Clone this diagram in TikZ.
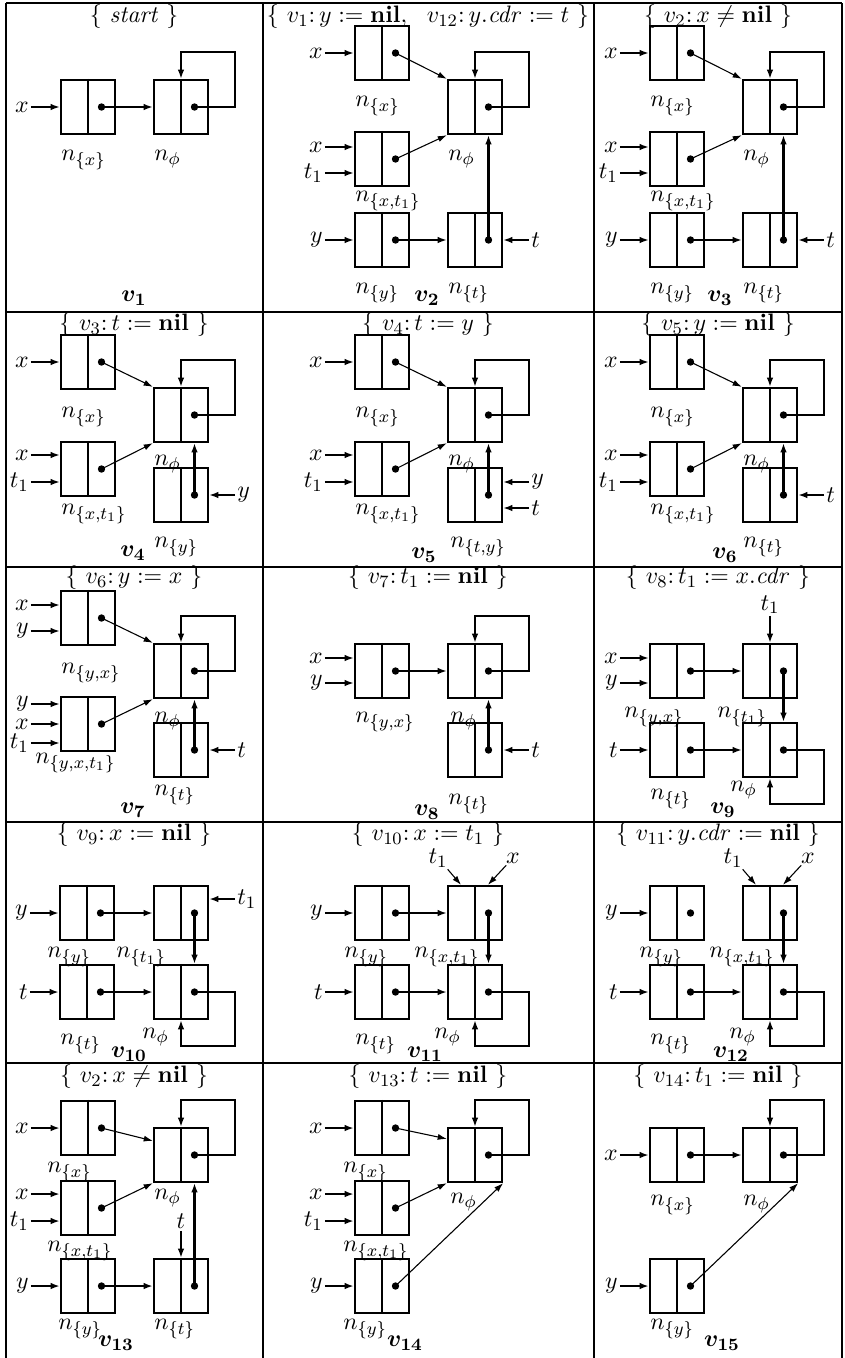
\documentclass[tikz,border=0pt,11pt]{standalone}
\usepackage{bm}
\usetikzlibrary{arrows.meta,calc}
\tikzset{cons/.style={draw,line width=1.1pt,minimum width=24.8pt,minimum height=24.8pt,inner sep=0pt},
  ptr/.style={line width=0.9pt,-{Latex[length=4.2pt,width=3pt]}},
  vptr/.style={ptr,line width=1.2pt},
  fine/.style={line width=0.5pt,-{Latex[length=4.2pt,width=2.8pt]}},
  var/.style={inner sep=0.8pt},
  lbl/.style={anchor=base west,inner sep=0.5pt},
  head/.style={inner sep=0pt},
  rule/.style={line width=1.2pt}}
% one cons cell: [label offset]{name}{centre}{subscript}
\newcommand{\cons}[4][0,25]{%
  \node[cons] (#2) at (#3) {};
  \draw[line width=1.1pt] (#2.north) -- (#2.south);
  \coordinate (#2-p) at ($(#2.center)+(13.5,0)$);
  \fill (#2-p) circle (1.7pt);
  \node[lbl] (#2-l) at ($(#2.south west)+(#1)$) {$n_{#4}$};}
% variable pointing in from the left / right / top
\newcommand{\pin}[4]{%
  \coordinate (#1-e) at ($(#3.west)+(0,#4)$);
  \node[var,anchor=east] (#1) at ($(#1-e)+(-29,0)$) {$#2$};
  \draw[ptr] (#1) -- (#1-e);}
\newcommand{\rpin}[4]{%
  \coordinate (#1-e) at ($(#3.east)+(0,#4)$);
  \node[var,anchor=west] (#1) at ($(#1-e)+(26,0)$) {$#2$};
  \draw[ptr] (#1) -- (#1-e);}
\newcommand{\tpin}[3]{%
  \node[var,anchor=south] (#1) at ($(#3)+(0,-27)$) {$#2$};
  \draw[vptr] (#1) -- (#3);}
\newcommand{\loopup}[1]{\draw[ptr] (#1-p) -| ($(#1.north east)+(26,-27)$) -| (#1.north);}
\newcommand{\loopdown}[1]{\draw[ptr] (#1-p) -| ($(#1.south east)+(26,26)$) -| (#1.south);}

\begin{document}
\begin{tikzpicture}[x=0.46pt,y=-0.46pt]
  \useasboundingbox (0,0) rectangle (844,1358);
  % table
  \foreach \y in {3,312,567,822,1063} \draw[rule] (6,\y) -- (842,\y);
  \foreach \x in {6,263,594,842} \draw[rule] (\x,3) -- (\x,1358);

  % v1
  \node[head] (h1) at (134,17) {$\{$ \textit{start} $\}$};
  \cons{v1x}{88,107}{\{x\}}
  \cons{v1f}{181,107}{\phi}
  \pin{v1a}{x}{v1x}{0}
  \draw[ptr] (v1x-p) -- (v1f);
  \loopup{v1f}
  \node[head] (v1) at (134,298) {$\bm{v_1}$};

  % v2
  \node[head] (h2) at (428,17) {$\{\ v_1\colon y:=\textbf{nil},\ \ v_{12}\colon y.\mathit{cdr}:=t\ \}$};
  \cons{v2x}{382,53}{\{x\}}
  \cons[0,14]{v2xt}{382,159}{\{x,t_1\}}
  \cons{v2y}{382,240}{\{y\}}
  \cons{v2f}{475,107}{\phi}
  \cons{v2t}{475,240}{\{t\}}
  \pin{v2a}{x}{v2x}{0}
  \pin{v2b}{x}{v2xt}{-12}
  \pin{v2c}{t_1}{v2xt}{14}
  \pin{v2d}{y}{v2y}{0}
  \rpin{v2e}{t}{v2t}{0}
  \draw[fine] (v2x-p) -- (v2f.north west);
  \draw[fine] (v2xt-p) -- (v2f.south west);
  \draw[ptr] (v2y-p) -- (v2t);
  \draw[vptr] (v2t-p) -- (v2t-p |- v2f.south);
  \loopup{v2f}
  \node[head] (v2) at (427,298) {$\bm{v_2}$};

  % v3
  \node[head] (h3) at (718,17) {$\{\ v_2\colon x\neq\textbf{nil}\ \}$};
  \cons{v3x}{677,53}{\{x\}}
  \cons[0,14]{v3xt}{677,159}{\{x,t_1\}}
  \cons{v3y}{677,240}{\{y\}}
  \cons{v3f}{770,107}{\phi}
  \cons{v3t}{770,240}{\{t\}}
  \pin{v3a}{x}{v3x}{0}
  \pin{v3b}{x}{v3xt}{-12}
  \pin{v3c}{t_1}{v3xt}{14}
  \pin{v3d}{y}{v3y}{0}
  \rpin{v3e}{t}{v3t}{0}
  \draw[fine] (v3x-p) -- (v3f.north west);
  \draw[fine] (v3xt-p) -- (v3f.south west);
  \draw[ptr] (v3y-p) -- (v3t);
  \draw[vptr] (v3t-p) -- (v3t-p |- v3f.south);
  \loopup{v3f}
  \node[head] (v3) at (720,298) {$\bm{v_3}$};

  % v4
  \node[head] (h4) at (134,325) {$\{\ v_3\colon t:=\textbf{nil}\ \}$};
  \cons[0,27]{v4x}{88,362}{\{x\}}
  \cons[0,17]{v4xt}{88,469}{\{x,t_1\}}
  \cons[0,22]{v4f}{181,415}{\phi}
  \cons[0,24]{v4y}{181,495}{\{y\}}
  \pin{v4a}{x}{v4x}{0}
  \pin{v4b}{x}{v4xt}{-14}
  \pin{v4c}{t_1}{v4xt}{13}
  \rpin{v4e}{y}{v4y}{0}
  \draw[fine] (v4x-p) -- (v4f.north west);
  \draw[fine] (v4xt-p) -- (v4f.south west);
  \draw[vptr] (v4y-p) -- (v4y-p |- v4f.south);
  \loopup{v4f}
  \node[head] (v4) at (133,553) {$\bm{v_4}$};

  % v5
  \node[head] (h5) at (428,325) {$\{\ v_4\colon t:=y\ \}$};
  \cons[0,27]{v5x}{382,362}{\{x\}}
  \cons[0,17]{v5xt}{382,469}{\{x,t_1\}}
  \cons[0,22]{v5f}{475,415}{\phi}
  \cons[2,24]{v5ty}{475,495}{\{t,y\}}
  \pin{v5a}{x}{v5x}{0}
  \pin{v5b}{x}{v5xt}{-14}
  \pin{v5c}{t_1}{v5xt}{13}
  \rpin{v5d}{y}{v5ty}{-13}
  \rpin{v5e}{t}{v5ty}{13}
  \draw[fine] (v5x-p) -- (v5f.north west);
  \draw[fine] (v5xt-p) -- (v5f.south west);
  \draw[vptr] (v5ty-p) -- (v5ty-p |- v5f.south);
  \loopup{v5f}
  \node[head] (v5) at (424,555) {$\bm{v_5}$};

  % v6
  \node[head] (h6) at (718,325) {$\{\ v_5\colon y:=\textbf{nil}\ \}$};
  \cons[0,27]{v6x}{677,362}{\{x\}}
  \cons[0,17]{v6xt}{677,469}{\{x,t_1\}}
  \cons[0,22]{v6f}{770,415}{\phi}
  \cons[0,24]{v6t}{770,495}{\{t\}}
  \pin{v6a}{x}{v6x}{0}
  \pin{v6b}{x}{v6xt}{-14}
  \pin{v6c}{t_1}{v6xt}{13}
  \rpin{v6e}{t}{v6t}{0}
  \draw[fine] (v6x-p) -- (v6f.north west);
  \draw[fine] (v6xt-p) -- (v6f.south west);
  \draw[vptr] (v6t-p) -- (v6t-p |- v6f.south);
  \loopup{v6f}
  \node[head] (v6) at (725,555) {$\bm{v_6}$};

  % v7
  \node[head] (h7) at (134,578) {$\{\ v_6\colon y:=x\ \}$};
  \cons[0,27]{v7yx}{88,618}{\{y,x\}}
  \cons[-26,11]{v7yxt}{88,724}{\{y,x,t_1\}}
  \cons[0,23]{v7f}{181,671}{\phi}
  \cons[0,17]{v7t}{181,750}{\{t\}}
  \pin{v7a}{x}{v7yx}{-13}
  \pin{v7b}{y}{v7yx}{13}
  \pin{v7c}{y}{v7yxt}{-20}
  \pin{v7d}{x}{v7yxt}{0}
  \pin{v7g}{t_1}{v7yxt}{19}
  \rpin{v7e}{t}{v7t}{0}
  \draw[fine] (v7yx-p) -- (v7f.north west);
  \draw[fine] (v7yxt-p) -- (v7f.south west);
  \draw[vptr] (v7t-p) -- (v7t-p |- v7f.south);
  \loopup{v7f}
  \node[head] (v7) at (133,810) {$\bm{v_7}$};

  % v8
  \node[head] (h8) at (428,578) {$\{\ v_7\colon t_1:=\textbf{nil}\ \}$};
  \cons[0,23]{v8yx}{382,671}{\{y,x\}}
  \cons[2,23]{v8f}{475,671}{\phi}
  \cons[0,26]{v8t}{475,750}{\{t\}}
  \pin{v8a}{x}{v8yx}{-13}
  \pin{v8b}{y}{v8yx}{12}
  \rpin{v8e}{t}{v8t}{0}
  \draw[ptr] (v8yx-p) -- (v8f);
  \draw[vptr] (v8t-p) -- (v8t-p |- v8f.south);
  \loopup{v8f}
  \node[head] (v8) at (427,812) {$\bm{v_8}$};

  % v9
  \node[head] (h9) at (718,578) {$\{\ v_8\colon t_1:=x.\mathit{cdr}\ \}$};
  \cons[-26,18]{v9yx}{677,671}{\{y,x\}}
  \cons[-26,18]{v9t1}{770,671}{\{t_1\}}
  \cons[0,21]{v9t}{677,750}{\{t\}}
  \cons[-13,13]{v9f}{770,750}{\phi}
  \pin{v9a}{x}{v9yx}{-13}
  \pin{v9b}{y}{v9yx}{12}
  \pin{v9c}{t}{v9t}{0}
  \tpin{v9d}{t_1}{v9t1.north}
  \draw[ptr] (v9yx-p) -- (v9t1);
  \draw[vptr] (v9t1-p) -- (v9t1-p |- v9f.north);
  \draw[ptr] (v9t-p) -- (v9f);
  \loopdown{v9f}
  \node[head] (v9) at (723,810) {$\bm{v_9}$};

  % v10
  \node[head] (h10) at (134,835) {$\{\ v_9\colon x:=\textbf{nil}\ \}$};
  \cons[-13,16]{v10y}{87,913}{\{y\}}
  \cons[-38,16]{v10t1}{181,913}{\{t_1\}}
  \cons[0,24]{v10t}{87,992}{\{t\}}
  \cons[-12,18]{v10f}{181,992}{\phi}
  \pin{v10a}{y}{v10y}{0}
  \pin{v10b}{t}{v10t}{0}
  \rpin{v10c}{t_1}{v10t1}{-14}
  \draw[ptr] (v10y-p) -- (v10t1);
  \draw[vptr] (v10t1-p) -- (v10t1-p |- v10f.north);
  \draw[ptr] (v10t-p) -- (v10f);
  \loopdown{v10f}
  \node[head] (v10) at (129,1054) {$\bm{v_{10}}$};

  % v11
  \node[head] (h11) at (428,835) {$\{\ v_{10}\colon x:=t_1\ \}$};
  \cons[-11,16]{v11y}{382,913}{\{y\}}
  \cons[-34,16]{v11xt}{475,913}{\{x,t_1\}}
  \cons[0,24]{v11t}{382,992}{\{t\}}
  \cons[-14,18]{v11f}{475,992}{\phi}
  \pin{v11a}{y}{v11y}{0}
  \pin{v11b}{t}{v11t}{0}
  \coordinate (v11u) at ($(v11xt.north)+(-14,0)$);
  \coordinate (v11w) at ($(v11xt.north)+(13,0)$);
  \node[var] (v11c) at (438,858) {$t_1$};
  \node[var] (v11d) at (513,858) {$x$};
  \draw[fine] (v11c) -- (v11u);
  \draw[fine] (v11d) -- (v11w);
  \draw[ptr] (v11y-p) -- (v11xt);
  \draw[vptr] (v11xt-p) -- (v11xt-p |- v11f.north);
  \draw[ptr] (v11t-p) -- (v11f);
  \loopdown{v11f}
  \node[head] (v11) at (425,1054) {$\bm{v_{11}}$};

  % v12
  \node[head] (h12) at (718,835) {$\{\ v_{11}\colon y.\mathit{cdr}:=\textbf{nil}\ \}$};
  \cons[-11,16]{v12y}{677,913}{\{y\}}
  \cons[-34,16]{v12xt}{770,913}{\{x,t_1\}}
  \cons[0,24]{v12t}{677,992}{\{t\}}
  \cons[-14,18]{v12f}{770,992}{\phi}
  \pin{v12a}{y}{v12y}{0}
  \pin{v12b}{t}{v12t}{0}
  \coordinate (v12u) at ($(v12xt.north)+(-14,0)$);
  \coordinate (v12w) at ($(v12xt.north)+(13,0)$);
  \node[var] (v12c) at (733,858) {$t_1$};
  \node[var] (v12d) at (808,858) {$x$};
  \draw[fine] (v12c) -- (v12u);
  \draw[fine] (v12d) -- (v12w);
  \draw[vptr] (v12xt-p) -- (v12xt-p |- v12f.north);
  \draw[ptr] (v12t-p) -- (v12f);
  \loopdown{v12f}
  \node[head] (v12) at (731,1054) {$\bm{v_{12}}$};

  % v13
  \node[head] (h13) at (134,1077) {$\{\ v_2\colon x\neq\textbf{nil}\ \}$};
  \cons[-14,16]{v13x}{88,1128}{\{x\}}
  \cons[-14,15]{v13xt}{88,1208}{\{x,t_1\}}
  \cons[-3,15]{v13y}{88,1286}{\{y\}}
  \cons[0,16]{v13f}{181,1155}{\phi}
  \cons[0,15]{v13t}{181,1286}{\{t\}}
  \pin{v13a}{x}{v13x}{0}
  \pin{v13b}{x}{v13xt}{-14}
  \pin{v13c}{t_1}{v13xt}{13}
  \pin{v13d}{y}{v13y}{0}
  \tpin{v13e}{t}{v13t.north}
  \draw[fine] (v13x-p) -- ($(v13f.north west)+(0,14)$);
  \draw[fine] (v13xt-p) -- (v13f.south west);
  \draw[ptr] (v13y-p) -- (v13t);
  \draw[vptr] (v13t-p) -- (v13t-p |- v13f.south);
  \loopup{v13f}
  \node[head] (v13) at (116,1343) {$\bm{v_{13}}$};

  % v14
  \node[head] (h14) at (428,1077) {$\{\ v_{13}\colon t:=\textbf{nil}\ \}$};
  \cons[-12,16]{v14x}{382,1128}{\{x\}}
  \cons[-12,15]{v14xt}{382,1208}{\{x,t_1\}}
  \cons[-12,15]{v14y}{382,1286}{\{y\}}
  \cons[2,20]{v14f}{475,1155}{\phi}
  \pin{v14a}{x}{v14x}{0}
  \pin{v14b}{x}{v14xt}{-14}
  \pin{v14c}{t_1}{v14xt}{13}
  \pin{v14d}{y}{v14y}{0}
  \draw[fine] (v14x-p) -- ($(v14f.north west)+(0,12)$);
  \draw[fine] (v14xt-p) -- (v14f.south west);
  \draw[fine] (v14y-p) -- (v14f.south east);
  \loopup{v14f}
  \node[head] (v14) at (405,1343) {$\bm{v_{14}}$};

  % v15
  \node[head] (h15) at (718,1077) {$\{\ v_{14}\colon t_1:=\textbf{nil}\ \}$};
  \cons[0,22]{v15x}{677,1155}{\{x\}}
  \cons[0,22]{v15f}{770,1155}{\phi}
  \cons[0,15]{v15y}{677,1286}{\{y\}}
  \pin{v15a}{x}{v15x}{0}
  \pin{v15b}{y}{v15y}{0}
  \draw[ptr] (v15x-p) -- (v15f);
  \draw[fine] (v15y-p) -- (v15f.south east);
  \loopup{v15f}
  \node[head] (v15) at (722,1343) {$\bm{v_{15}}$};
\end{tikzpicture}
\end{document}
